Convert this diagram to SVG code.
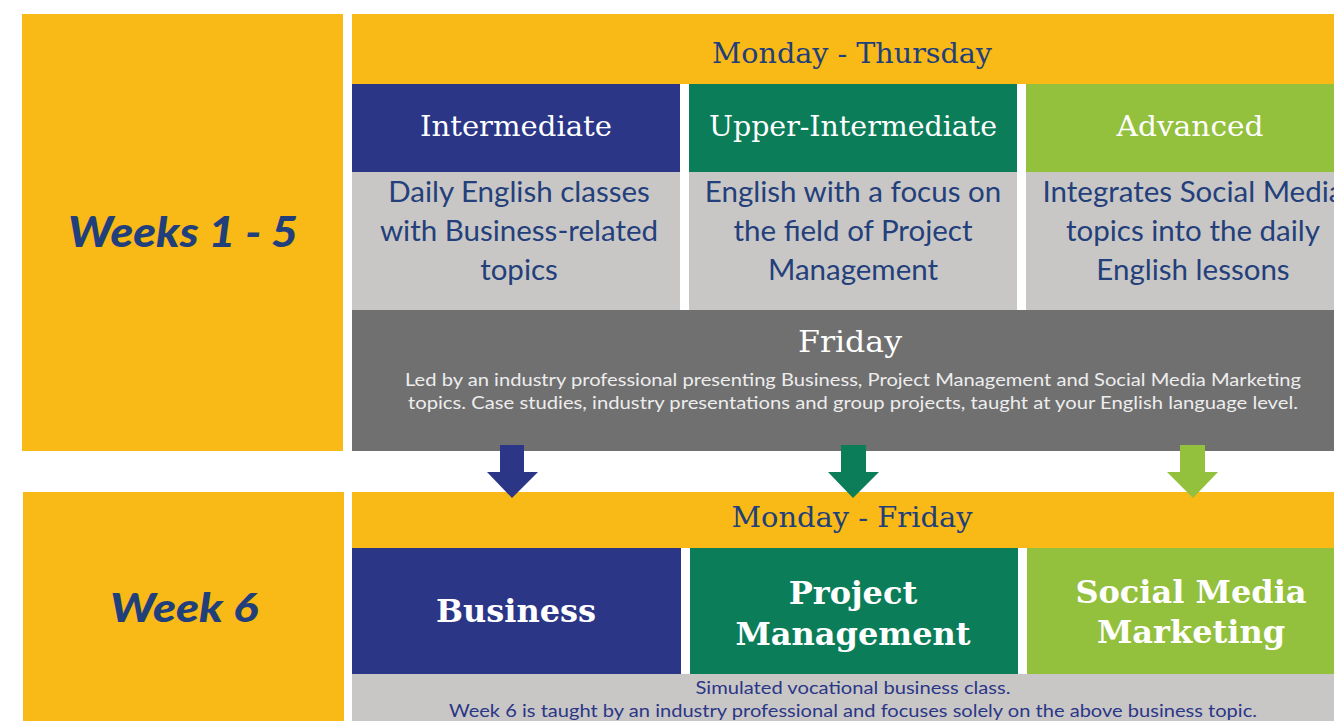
<svg xmlns="http://www.w3.org/2000/svg" width="1334" height="721" viewBox="0 0 1334 721">
<defs>
<style>
.yel{fill:#F9B916}
.blu{fill:#2B3686}
.grn{fill:#0B7D59}
.lim{fill:#93C03D}
.gry{fill:#C8C7C6}
.dgy{fill:#707070}
.wk{font-family:Lato,"Open Sans",sans-serif;font-weight:900;font-style:italic;font-size:42px;fill:#213F7B;text-anchor:middle}
.day{font-family:"DejaVu Serif",serif;font-size:28px;fill:#213F7B;text-anchor:middle}
.lvl{font-family:"DejaVu Serif",serif;font-size:28px;fill:#FFFFFF;text-anchor:middle}
.desc{font-family:Lato,"Open Sans",sans-serif;font-size:29.5px;fill:#24407B;text-anchor:middle}
.fri{font-family:Lato,"Open Sans",sans-serif;font-size:17.5px;fill:#EDEDED;text-anchor:middle}
.big{font-family:"DejaVu Serif",serif;font-weight:bold;font-size:32px;fill:#FFFFFF;text-anchor:middle}
.sm{font-family:Lato,"Open Sans",sans-serif;font-size:18px;fill:#2B3686;text-anchor:middle}
</style>
</defs>
<rect width="1334" height="721" fill="#FFFFFF"/>
<g id="weeks1-5">
<rect class="yel" x="22" y="14" width="321" height="437"/>
<text class="wk" x="183" y="247" textLength="230" lengthAdjust="spacingAndGlyphs">Weeks 1 - 5</text>
</g>
<g id="mon-thu">
<rect class="yel" x="352" y="14" width="982" height="70"/>
<text class="day" x="852" y="63" textLength="280" lengthAdjust="spacingAndGlyphs">Monday - Thursday</text>
</g>
<g id="intermediate">
<rect class="blu" x="352" y="84" width="328" height="88"/>
<text class="lvl" x="516" y="136" textLength="192" lengthAdjust="spacingAndGlyphs">Intermediate</text>
<rect class="gry" x="352" y="172" width="328" height="138"/>
<text class="desc" x="519" y="202">Daily English classes</text>
<text class="desc" x="519" y="241">with Business-related</text>
<text class="desc" x="519" y="280">topics</text>
</g>
<g id="upper-intermediate">
<rect class="grn" x="689" y="84" width="328" height="88"/>
<text class="lvl" x="853" y="136" textLength="288" lengthAdjust="spacingAndGlyphs">Upper-Intermediate</text>
<rect class="gry" x="689" y="172" width="328" height="138"/>
<text class="desc" x="853" y="202">English with a focus on</text>
<text class="desc" x="853" y="241">the field of Project</text>
<text class="desc" x="853" y="280">Management</text>
</g>
<g id="advanced">
<rect class="lim" x="1026" y="84" width="308" height="88"/>
<text class="lvl" x="1190" y="136" textLength="147" lengthAdjust="spacingAndGlyphs">Advanced</text>
<rect class="gry" x="1026" y="172" width="308" height="138"/>
<text class="desc" x="1193" y="202">Integrates Social Media</text>
<text class="desc" x="1193" y="241">topics into the daily</text>
<text class="desc" x="1193" y="280">English lessons</text>
</g>
<g id="friday">
<rect class="dgy" x="352" y="310" width="982" height="141"/>
<text class="lvl" x="850" y="352" style="font-size:30px" textLength="104" lengthAdjust="spacingAndGlyphs">Friday</text>
<text class="fri" x="853" y="386" textLength="896" lengthAdjust="spacingAndGlyphs">Led by an industry professional presenting Business, Project Management and Social Media Marketing</text>
<text class="fri" x="853" y="409" textLength="890" lengthAdjust="spacingAndGlyphs">topics. Case studies, industry presentations and group projects, taught at your English language level.</text>
</g>
<g id="week6">
<rect class="yel" x="23" y="492" width="321" height="229"/>
<text class="wk" x="184" y="622" style="font-size:40px" textLength="148" lengthAdjust="spacingAndGlyphs">Week 6</text>
</g>
<g id="mon-fri">
<rect class="yel" x="352" y="492" width="982" height="56"/>
<text class="day" x="852" y="527" textLength="241" lengthAdjust="spacingAndGlyphs">Monday - Friday</text>
</g>
<g id="business">
<rect class="blu" x="352" y="548" width="329" height="126"/>
<text class="big" x="516" y="622">Business</text>
</g>
<g id="project-management">
<rect class="grn" x="690" y="548" width="328" height="126"/>
<text class="big" x="853" y="604">Project</text>
<text class="big" x="853" y="645">Management</text>
</g>
<g id="social-media-marketing">
<rect class="lim" x="1027" y="548" width="307" height="126"/>
<text class="big" x="1191" y="603">Social Media</text>
<text class="big" x="1191" y="643">Marketing</text>
</g>
<g id="week6-note">
<rect class="gry" x="352" y="674" width="982" height="47"/>
<text class="sm" x="853" y="694" textLength="315" lengthAdjust="spacingAndGlyphs">Simulated vocational business class.</text>
<text class="sm" x="853" y="717" textLength="808" lengthAdjust="spacingAndGlyphs">Week 6 is taught by an industry professional and focuses solely on the above business topic.</text>
</g>
<g id="connectors">
<polygon fill="#2B3686" points="500,445 524,445 524,472 538,472 512,498 487,472 500,472"/>
<polygon fill="#0B7D59" points="841,445 866,445 866,472 879,472 853,498 828,472 841,472"/>
<polygon fill="#93C03D" points="1180,445 1205,445 1205,472 1218,472 1193,498 1167,472 1180,472"/>
</g>
</svg>
